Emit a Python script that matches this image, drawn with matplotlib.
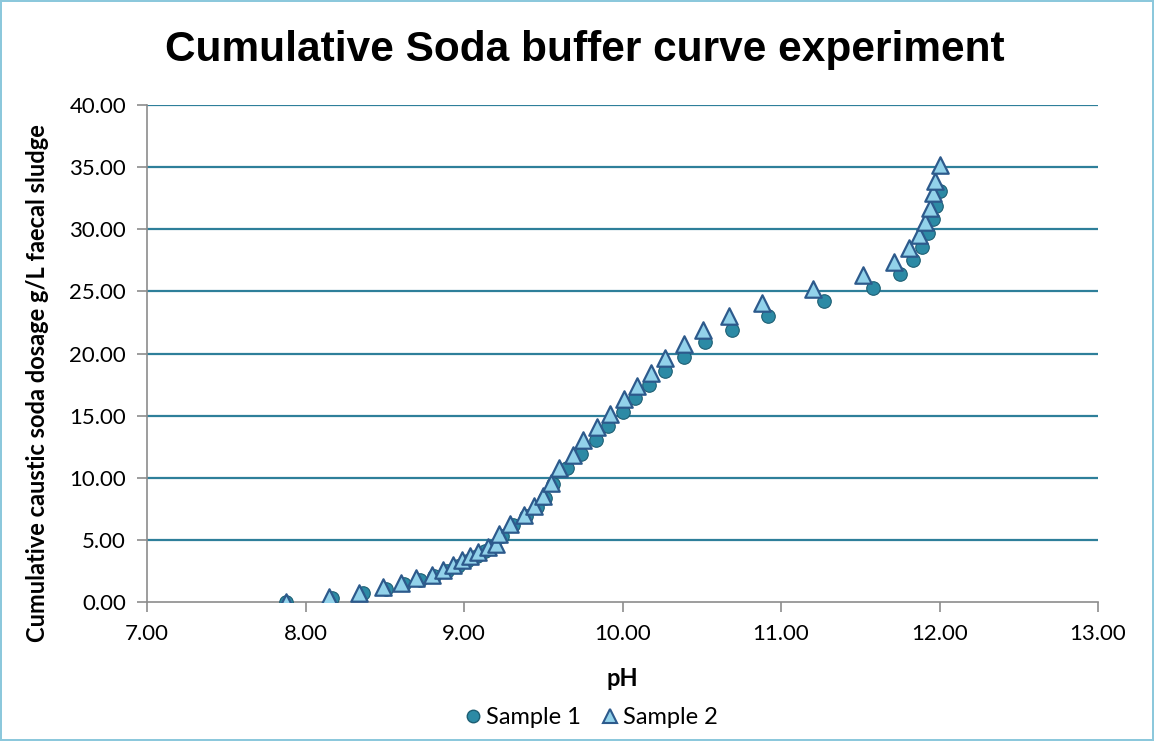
import matplotlib
matplotlib.use("Agg")
import matplotlib.pyplot as plt
from matplotlib.lines import Line2D

ph_s1 = [7.88, 8.17, 8.36, 8.51, 8.62, 8.72, 8.81, 8.89, 8.96, 9.02, 9.08, 9.13, 9.19, 9.24,
         9.31, 9.39, 9.46, 9.51, 9.56, 9.65, 9.74, 9.83, 9.91, 10.00, 10.08, 10.17, 10.27,
         10.39, 10.52, 10.69, 10.92, 11.27, 11.58, 11.75, 11.83, 11.89, 11.93, 11.96, 11.98, 12.00]
dose_s1 = [0.0, 0.35, 0.72, 1.05, 1.42, 1.78, 2.12, 2.5, 2.88, 3.28, 3.68, 4.08, 4.5, 5.3,
           6.2, 6.95, 7.65, 8.35, 9.5, 10.8, 11.9, 13.0, 14.2, 15.3, 16.4, 17.5, 18.6,
           19.7, 20.9, 21.9, 23.0, 24.2, 25.3, 26.4, 27.5, 28.6, 29.7, 30.8, 31.9, 33.1]

ph_s2 = [7.88, 8.15, 8.34, 8.49, 8.60, 8.70, 8.80, 8.87, 8.93, 8.99, 9.04, 9.09, 9.15, 9.20,
         9.22, 9.29, 9.38, 9.44, 9.50, 9.55, 9.60, 9.69, 9.75, 9.84, 9.92, 10.01, 10.09, 10.18,
         10.27, 10.39, 10.51, 10.67, 10.88, 11.20, 11.52, 11.71, 11.81, 11.87, 11.91, 11.94,
         11.96, 11.97, 12.00]
dose_s2 = [0.0, 0.4, 0.75, 1.2, 1.5, 1.9, 2.2, 2.6, 3.0, 3.4, 3.7, 4.05, 4.4, 4.7,
           5.5, 6.3, 7.0, 7.7, 8.5, 9.55, 10.75, 11.8, 13.0, 14.05, 15.1, 16.3, 17.4, 18.4,
           19.6, 20.8, 21.9, 23.0, 24.1, 25.2, 26.3, 27.4, 28.5, 29.5, 30.6, 31.7,
           32.9, 33.9, 35.2]

series_names = ["Sample 1", "Sample 2"]
title = "Cumulative Soda buffer curve experiment"
xlabel = "pH"
ylabel = "Cumulative caustic soda dosage g/L faecal sludge"
xticks = [7, 8, 9, 10, 11, 12, 13]
yticks = [0, 5, 10, 15, 20, 25, 30, 35, 40]

W, H = 1154, 741
fig = plt.figure(figsize=(W/100, H/100), dpi=100)
fig.patch.set_facecolor("white")
fig.patch.set_edgecolor("#8CC8DC")
fig.patch.set_linewidth(1.5)

ax = fig.add_axes([147/W, 1 - 602/H, (1098-147)/W, (602-105)/H])
ax.set_xlim(7, 13)
ax.set_ylim(0, 40)

grid_c = "#2E7F9A"
for y in yticks[1:]:
    ax.axhline(y, color=grid_c, lw=1.6, zorder=1)

ax.scatter(ph_s1, dose_s1, s=95, marker="o", facecolor="#2C8AA5", edgecolor="#1D5E73",
           linewidths=0.8, zorder=3)
ax.scatter(ph_s2, dose_s2, s=140, marker="^", facecolor="#92D2EA", edgecolor="#2D5A8C",
           linewidths=1.6, zorder=4)

for sp in ["top", "right"]:
    ax.spines[sp].set_visible(False)
for sp in ["left", "bottom"]:
    ax.spines[sp].set_color("#8C8C8C")
    ax.spines[sp].set_linewidth(1.2)

ax.set_xticks(xticks)
ax.set_yticks(yticks)
ax.set_xticklabels([f"{v:.2f}" for v in xticks])
ax.set_yticklabels([f"{v:.2f}" for v in yticks])
ax.tick_params(axis="both", direction="out", length=7, width=1.2, color="#8C8C8C",
               labelsize=16, labelcolor="black")
for lbl in ax.get_xticklabels() + ax.get_yticklabels():
    lbl.set_family("Lato")
ax.tick_params(axis="x", pad=9)
ax.tick_params(axis="y", pad=8)

fig.text(622/W, 1 - 678/H, xlabel, ha="center", va="center", fontsize=17,
         fontweight="bold", family="Lato")
fig.text(38/W, 1 - 383/H, ylabel, ha="center", va="center", rotation=90, fontsize=17,
         fontweight="bold", family="Lato")

fig.text(585/W, 1 - 50/H, title, ha="center", va="center", fontsize=30.5,
         fontweight="bold", family="Liberation Sans")

handles = [
    Line2D([], [], ls="none", marker="o", markersize=9, markerfacecolor="#2C8AA5",
           markeredgecolor="#1D5E73"),
    Line2D([], [], ls="none", marker="^", markersize=10, markerfacecolor="#92D2EA",
           markeredgecolor="#2D5A8C", markeredgewidth=1.5),
]
fig.legend(handles, series_names, loc="center", bbox_to_anchor=(590/W, 1 - 718/H),
           ncol=2, frameon=False, prop={"family": "Lato", "size": 17},
           handletextpad=0.1, columnspacing=0.8, handlelength=0.9)

fig.savefig("out.png", dpi=100, facecolor="white", edgecolor=fig.get_edgecolor())
